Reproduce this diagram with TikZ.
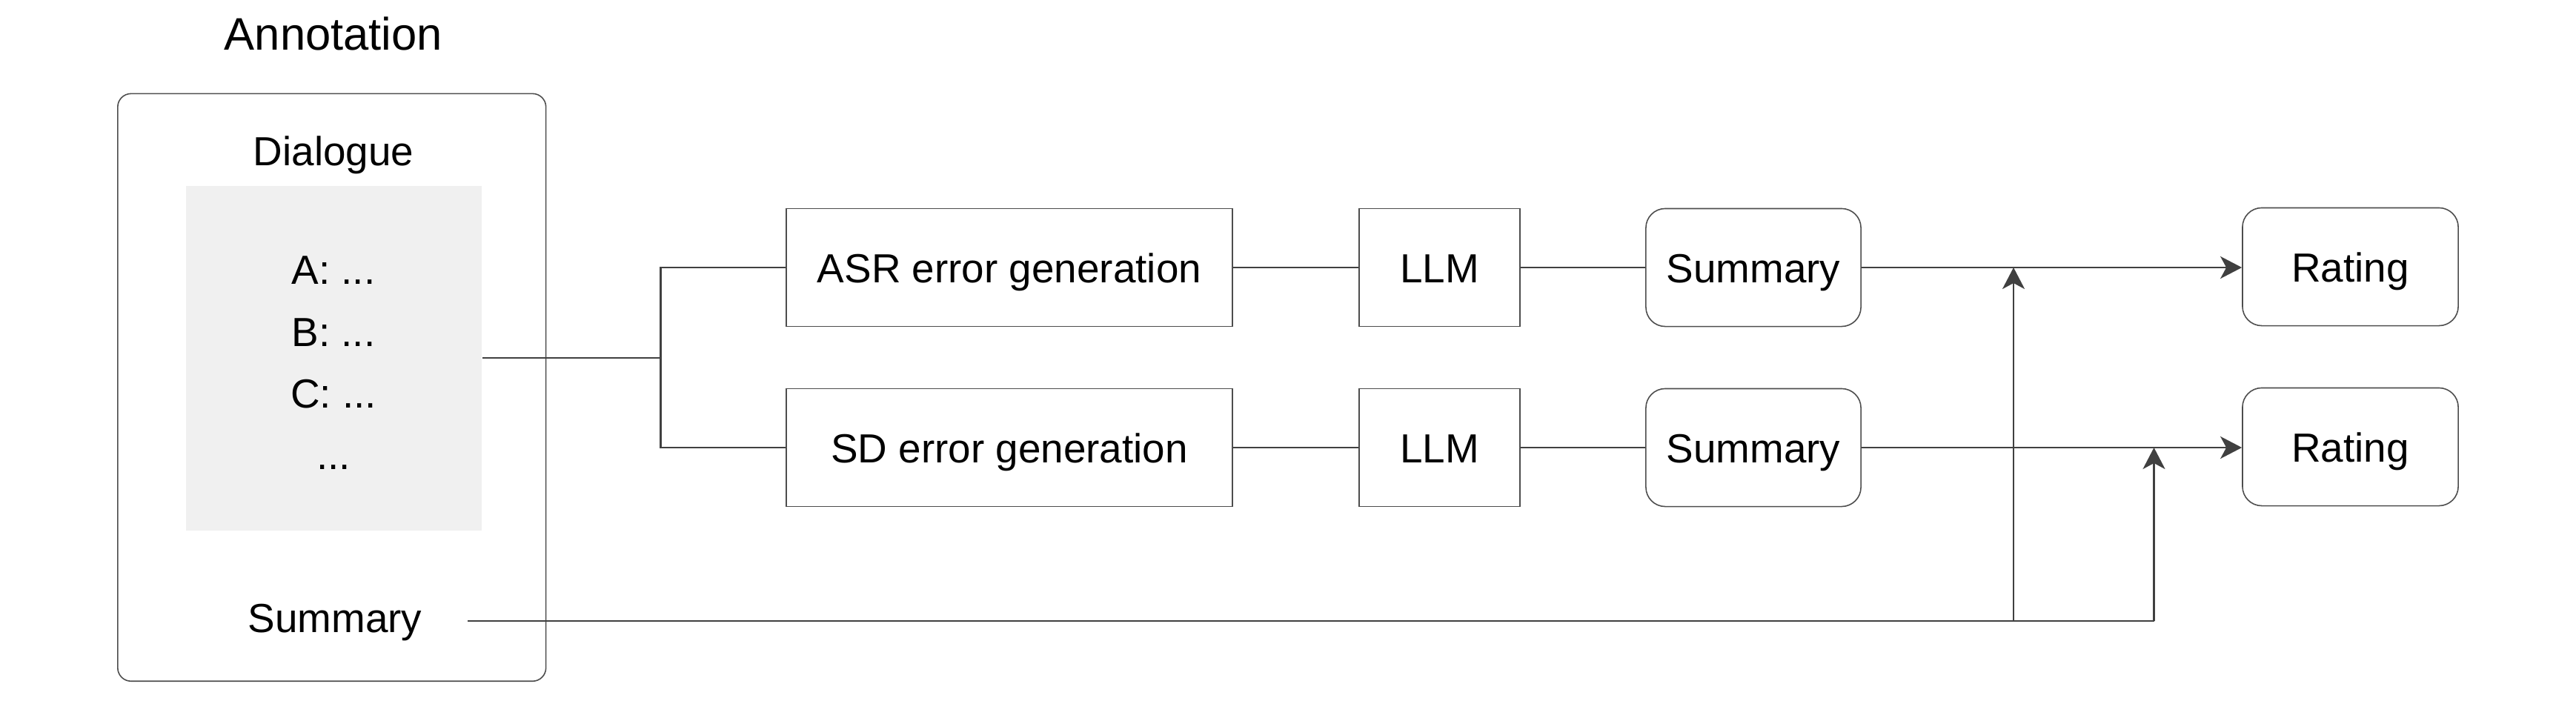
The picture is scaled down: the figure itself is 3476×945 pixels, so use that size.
\documentclass[tikz,border=0pt]{standalone}
\usepackage{fontspec}
\setmainfont{Liberation Sans}
\usetikzlibrary{arrows.meta}
\definecolor{ln}{HTML}{404040}
\definecolor{bd}{HTML}{4D4D4D}
\definecolor{gr}{HTML}{F0F0F0}
\begin{document}
\begin{tikzpicture}[x=0.01cm,y=-0.01cm,
  font=\fontsize{15.6}{18}\selectfont,
  box/.style={draw=bd, line width=0.45pt, minimum height=1.59cm, text height=11.6pt, text depth=0pt, inner sep=0pt},
  rbox/.style={box, rounded corners=0.26cm},
  conn/.style={draw=ln, line width=0.75pt},
  arr/.style={conn, -{Stealth[length=0.29cm,width=0.3cm,inset=0.08cm]}},
  lbl/.style={anchor=base, inner sep=0pt}]
\useasboundingbox (0,0) rectangle (3476,945);

% left annotation block
\node[lbl, font=\fontsize{17.5}{20}\selectfont] (annot) at (450,67.5) {Annotation};
\node[draw=bd, line width=0.45pt, rounded corners=0.18cm, minimum width=5.775cm, minimum height=7.924cm, inner sep=0pt] (outer) at (447.75,522.8) {};
\node[lbl] (dlg) at (450,223) {Dialogue};
\node[fill=gr, minimum width=3.986cm, minimum height=4.647cm, inner sep=0pt] (gray) at (450.7,483.15) {};
\node[lbl] (la) at (450,383) {A: ...};
\node[lbl] (lb) at (450,467) {B: ...};
\node[lbl] (lc) at (450,550) {C: ...};
\node[lbl] (ld) at (450,633) {...};
\node[lbl] (sumL) at (452,853) {Summary};

% pipelines
\node[box, minimum width=6.02cm] (asr) at (1362,361) {ASR error generation};
\node[box, minimum width=2.17cm] (llm1) at (1942.5,361) {LLM};
\node[rbox, minimum width=2.90cm] (sum1) at (2366,361) {Summary};
\node[rbox, minimum width=2.91cm] (rat1) at (3171.5,360) {Rating};

\node[box, minimum width=6.02cm] (sd) at (1362,604) {SD error generation};
\node[box, minimum width=2.17cm] (llm2) at (1942.5,604) {LLM};
\node[rbox, minimum width=2.90cm] (sum2) at (2366,604) {Summary};
\node[rbox, minimum width=2.91cm] (rat2) at (3171.5,603) {Rating};

\coordinate (bx) at (891.5,0);
\coordinate (s0) at (631,838);
\coordinate (v1) at (2717,838);
\coordinate (v2) at (2906.5,838);

\draw[conn] (gray.east) -- (gray.east -| bx);
\draw[conn] (asr.west) -- (asr.west -| bx) -- (sd.west -| bx) -- (sd.west);
\draw[conn] (asr) -- (llm1);
\draw[conn] (llm1) -- (sum1);
\draw[conn] (sd) -- (llm2);
\draw[conn] (llm2) -- (sum2);
\draw[arr] (sum1) -- (sum1 -| rat1.west);
\draw[arr] (sum2) -- (sum2 -| rat2.west);
\draw[conn] (s0) -- (v2);
\draw[arr] (v1) -- (v1 |- sum1.east);
\draw[arr] (v2) -- (v2 |- sum2.east);
\end{tikzpicture}
\end{document}
